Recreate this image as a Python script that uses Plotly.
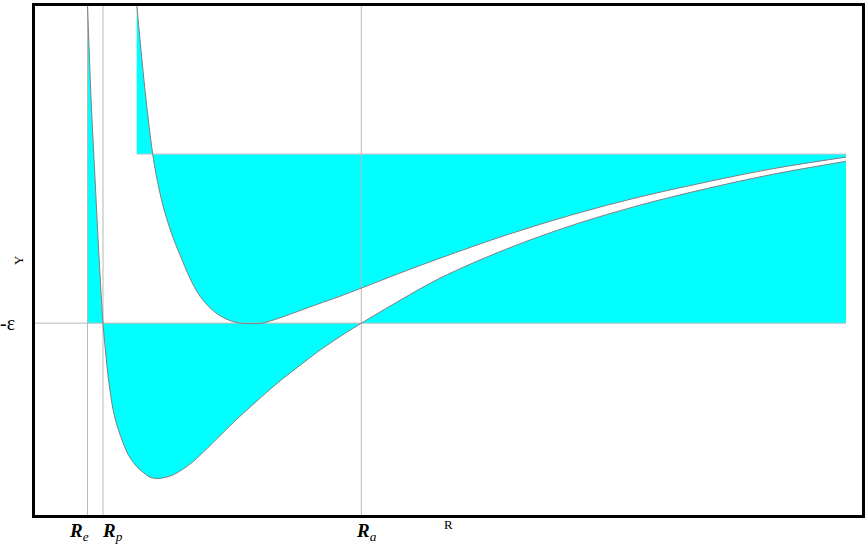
import plotly.graph_objects as go

# ---- data (R in arbitrary length units, Y in units of epsilon) ----
R_lower = [0.545, 0.580, 0.622, 0.660, 0.700, 0.725, 0.753, 0.803, 0.850, 0.903,
           0.950, 1.003, 1.070, 1.120, 1.170, 1.240, 1.320, 1.403, 1.503, 1.603,
           1.670, 1.837, 2.003, 2.170, 2.337, 2.503, 2.670, 2.837, 3.003, 3.140,
           3.285, 3.670, 4.070, 4.737, 5.403, 6.070, 6.737, 7.403, 8.130]
Y_lower = [0.888, 0.335, -0.165, -0.606, -1.000, -1.165, -1.324, -1.518, -1.624, -1.712,
           -1.776, -1.824, -1.868, -1.891, -1.912, -1.919, -1.913, -1.897, -1.862, -1.818,
           -1.782, -1.685, -1.588, -1.497, -1.409, -1.326, -1.250, -1.174, -1.106, -1.053,
           -1.000, -0.865, -0.734, -0.561, -0.419, -0.302, -0.204, -0.119, -0.043]

R_upper = [1.037, 1.070, 1.110, 1.155, 1.197, 1.230, 1.265, 1.300, 1.337, 1.400,
           1.470, 1.570, 1.670, 1.770, 1.870, 1.970, 2.070, 2.170, 2.270, 2.370,
           2.503, 2.670, 2.837, 3.070, 3.287, 3.670, 4.070, 4.737, 5.403, 6.070,
           6.737, 7.403, 8.130]
Y_upper = [0.888, 0.676, 0.435, 0.194, 0.000, -0.118, -0.218, -0.306, -0.381, -0.494,
           -0.596, -0.735, -0.841, -0.909, -0.956, -0.985, -1.000, -1.003, -1.002, -0.988,
           -0.962, -0.926, -0.890, -0.841, -0.792, -0.704, -0.616, -0.478, -0.357, -0.253,
           -0.165, -0.086, -0.018]

level_eps = -1.0     # -epsilon
level_zero = 0.0     # upper reference level

tick_vals = [0.545, 0.700, 3.283]   # R_e, R_p, R_a
tick_text = ["<b><i>R</i></b><i><sub>e</sub></i>",
             "<b><i>R</i></b><i><sub>p</sub></i>",
             "<b><i>R</i></b><i><sub>a</sub></i>"]
tick_shift = [-9, 9, 5]
ytick_vals = [level_eps]
ytick_text = ["-ε"]

x_range = [0.02, 8.29]
y_range = [-2.135, 0.876]

CYAN = "#00ffff"
CURVE = "#7f7f7f"
GUIDE = "#b8b8b8"
SMOOTH = 1.0

fig = go.Figure()

# lower filled region (between curve and -epsilon)
fig.add_trace(go.Scatter(x=[R_lower[0], R_lower[-1]], y=[level_eps, level_eps],
                         mode="lines", line=dict(width=0, color=GUIDE),
                         hoverinfo="skip", showlegend=False))
fig.add_trace(go.Scatter(x=R_lower, y=Y_lower, mode="lines", fill="tonexty",
                         fillcolor=CYAN, line=dict(width=0, shape="spline", smoothing=SMOOTH),
                         hoverinfo="skip", showlegend=False))

# upper filled region (between curve and zero level)
fig.add_trace(go.Scatter(x=[R_upper[0], R_upper[-1]], y=[level_zero, level_zero],
                         mode="lines", line=dict(width=1, color="#c4c4c4"),
                         hoverinfo="skip", showlegend=False))
fig.add_trace(go.Scatter(x=R_upper, y=Y_upper, mode="lines", fill="tonexty",
                         fillcolor=CYAN, line=dict(width=0, shape="spline", smoothing=SMOOTH),
                         hoverinfo="skip", showlegend=False))

# guide lines
fig.add_trace(go.Scatter(x=[x_range[0], R_lower[-1]], y=[level_eps, level_eps],
                         mode="lines", line=dict(width=1, color=GUIDE),
                         hoverinfo="skip", showlegend=False))
for tv in tick_vals:
    fig.add_trace(go.Scatter(x=[tv, tv], y=y_range, mode="lines",
                             line=dict(width=1, color=GUIDE),
                             hoverinfo="skip", showlegend=False))

# curves on top
fig.add_trace(go.Scatter(x=R_lower, y=Y_lower, mode="lines",
                         line=dict(width=1, color=CURVE, shape="spline", smoothing=SMOOTH),
                         hoverinfo="skip", showlegend=False))
fig.add_trace(go.Scatter(x=R_upper, y=Y_upper, mode="lines",
                         line=dict(width=1, color=CURVE, shape="spline", smoothing=SMOOTH),
                         hoverinfo="skip", showlegend=False))

annotations = []
for tv, tt, sh in zip(tick_vals, tick_text, tick_shift):
    annotations.append(dict(x=tv, xref="x", y=0, yref="paper", yanchor="top",
                            xanchor="center", xshift=sh, yshift=-3, text=tt,
                            showarrow=False,
                            font=dict(family="Liberation Serif", size=19, color="black")))
for yv, yt in zip(ytick_vals, ytick_text):
    annotations.append(dict(x=0, xref="paper", y=yv, yref="y", xanchor="right",
                            yanchor="middle", xshift=-18, text=yt, showarrow=False,
                            font=dict(family="Liberation Serif", size=20, color="black")))
annotations.append(dict(x=0.5, xref="paper", y=0, yref="paper", xanchor="center",
                        yanchor="middle", yshift=-9, text="R", showarrow=False,
                        font=dict(family="Liberation Serif", size=13, color="black")))
annotations.append(dict(x=0, xref="paper", y=0.5, yref="paper", xanchor="center",
                        yanchor="middle", xshift=-16.5, text="Y", textangle=-90,
                        showarrow=False,
                        font=dict(family="Liberation Serif", size=13, color="black")))

fig.update_layout(
    width=868, height=545,
    margin=dict(l=35, r=6, t=3, b=30, pad=0),
    paper_bgcolor="white", plot_bgcolor="white",
    showlegend=False,
    annotations=annotations,
    xaxis=dict(range=x_range, showgrid=False, zeroline=False, showticklabels=False,
               ticks="", showline=True, linecolor="black", linewidth=3, mirror=True),
    yaxis=dict(range=y_range, showgrid=False, zeroline=False, showticklabels=False,
               ticks="", showline=True, linecolor="black", linewidth=3, mirror=True),
)

fig.write_html("out.html", config={"displayModeBar": False},
               post_script="document.body.style.margin='0px';document.body.style.overflow='hidden';")
